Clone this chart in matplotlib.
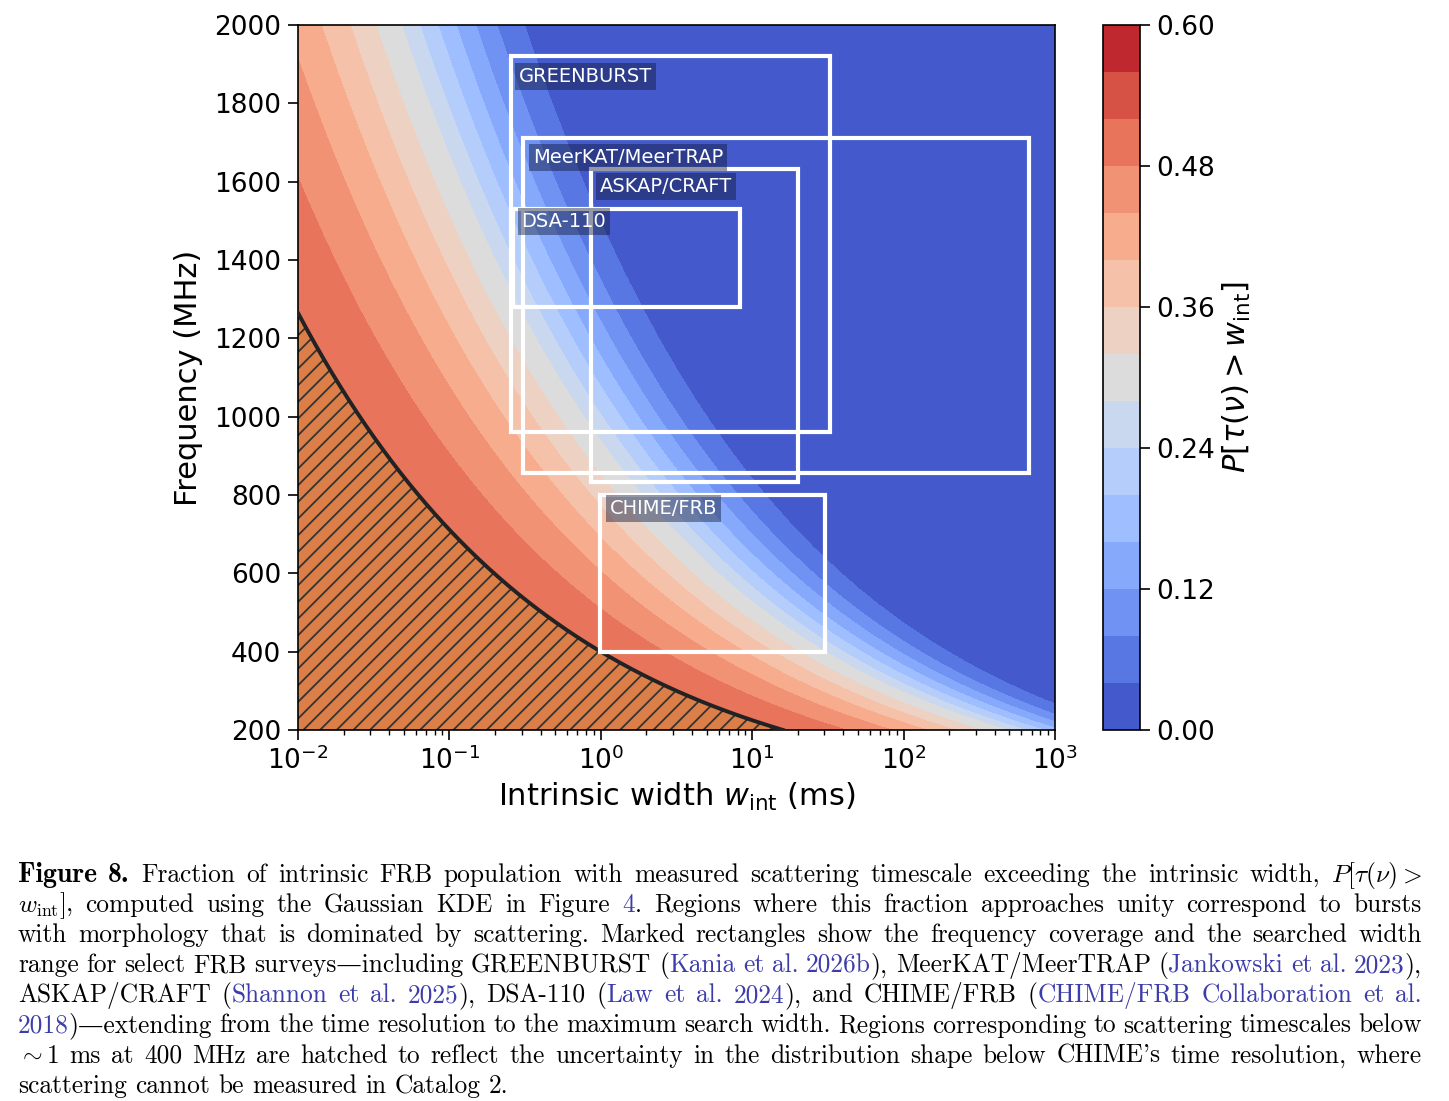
import matplotlib.pyplot as plt
import numpy as np
from matplotlib.patches import Rectangle

# P[tau > w] read off the contour crossings, as a function of
# log10 of the scattering time referenced to 400 MHz (ms)
log_tau400 = [-3.0, -1.0, 0.42, 0.72, 0.95, 1.14, 1.31, 1.48, 1.60, 1.72, 1.84, 1.97, 2.11, 2.29, 3.5]
frac_above = [0.60, 0.58, 0.48, 0.44, 0.40, 0.36, 0.32, 0.28, 0.24, 0.20, 0.16, 0.12, 0.08, 0.04, 0.00]

# hatched region: scattering below ~1 ms at 400 MHz
tau_cut_ms = 1.0
ref_freq = 400.0

# surveys: width range (ms) and frequency coverage (MHz)
survey_names = ["GREENBURST", "MeerKAT/MeerTRAP", "ASKAP/CRAFT", "DSA-110", "CHIME/FRB"]
survey_wmin = [0.256, 0.306, 0.864, 0.262, 0.983]
survey_wmax = [32.768, 673.0, 20.0, 8.3, 30.3]
survey_numin = [960, 856, 832, 1280, 400]
survey_numax = [1920, 1712, 1632, 1530, 800]

cbar_ticks = [0.0, 0.12, 0.24, 0.36, 0.48, 0.60]

# label box offsets from each rectangle's top-left corner (pixels)
label_dx = [4, 6, 5, 5, 6]
label_dy = [7, 6, 4, -1, 0]

plt.rcParams["hatch.linewidth"] = 1.3

W_PX, H_PX = 1449, 1101
fig = plt.figure(figsize=(W_PX / 100, H_PX / 100), dpi=100)
ax = fig.add_axes([298 / W_PX, 1 - 730 / H_PX, 757 / W_PX, 705 / H_PX])
cax = fig.add_axes([1103 / W_PX, 1 - 730 / H_PX, 37 / W_PX, 705 / H_PX])

# field on a grid: depends only on w * (nu/400)^4
w_grid = np.logspace(-2, 3, 800)
nu_grid = np.linspace(200, 2000, 800)
Wg, NUg = np.meshgrid(w_grid, nu_grid)
log_s = np.log10(Wg) + 4 * np.log10(NUg / ref_freq)
Z = np.interp(log_s, log_tau400, frac_above)

levels = np.linspace(0, 0.6, 16)
cf = ax.contourf(Wg, NUg, Z, levels=levels, cmap="coolwarm", zorder=1)
ax.set_xscale("log")

# hatched low-scattering region
w_curve = np.logspace(-2, np.log10(tau_cut_ms * 16), 400)
nu_curve = ref_freq * (tau_cut_ms / w_curve) ** 0.25
ax.fill_between(w_curve, 200, nu_curve, facecolor="#dc7e47", edgecolor="#333333",
                hatch="//", linewidth=0, zorder=2)
ax.plot(w_curve, nu_curve, color="#222222", lw=2.8, zorder=3)

# survey rectangles and labels
fs_lab = 14
pad_px = 0.2 * fs_lab * 100 / 72
for i, name in enumerate(survey_names):
    ax.add_patch(Rectangle((survey_wmin[i], survey_numin[i]),
                           survey_wmax[i] - survey_wmin[i],
                           survey_numax[i] - survey_numin[i],
                           fill=False, edgecolor="white", lw=3, zorder=4))
    ax.annotate(name, xy=(survey_wmin[i], survey_numax[i]), xycoords="data",
                xytext=(label_dx[i] + pad_px, -(label_dy[i] + pad_px)),
                textcoords="offset pixels", ha="left", va="top",
                fontsize=fs_lab, color="white", zorder=5,
                bbox=dict(boxstyle="square,pad=0.2", facecolor="#10183a",
                          edgecolor="none", alpha=0.45))

ax.set_xlim(1e-2, 1e3)
ax.set_ylim(200, 2000)
ax.set_yticks(range(200, 2001, 200))
ax.tick_params(which="major", labelsize=19, length=7, width=1.2, pad=5)
ax.tick_params(which="minor", length=3.5, width=1.0)
for sp in ax.spines.values():
    sp.set_linewidth(1.2)
ax.set_xlabel(r"Intrinsic width $w_{\rm int}$ (ms)", fontsize=22, labelpad=4)
ax.set_ylabel("Frequency (MHz)", fontsize=22, labelpad=8)

cb = fig.colorbar(cf, cax=cax, ticks=cbar_ticks)
cb.ax.set_yticklabels([f"{t:.2f}" for t in cbar_ticks])
cb.ax.tick_params(labelsize=19, length=7, width=1.2, pad=5)
cb.outline.set_linewidth(1.2)
cb.set_label(r"$P[\tau(\nu) > w_{\rm int}]$", fontsize=22, labelpad=4)

# caption: (text, style) with b = bold, n = normal, c = citation, m = math (kept whole)
cite = "#3c3caa"
caption = [
    [("Figure 8.", "b"), ("  Fraction of intrinsic FRB population with measured scattering timescale exceeding the intrinsic width, ", "n"),
     (r"$P[\tau(\nu) >$", "m")],
    [(r"$w_{\rm int}]$", "m"), (", computed using the Gaussian KDE in Figure ", "n"), ("4", "c"),
     (".  Regions where this fraction approaches unity correspond to bursts", "n")],
    [("with morphology that is dominated by scattering.  Marked rectangles show the frequency coverage and the searched width", "n")],
    [("range for select FRB surveys\u2014including GREENBURST (", "n"), ("Kania et al. 2026b", "c"),
     ("), MeerKAT/MeerTRAP (", "n"), ("Jankowski et al. 2023", "c"), ("),", "n")],
    [("ASKAP/CRAFT (", "n"), ("Shannon et al. 2025", "c"), ("), DSA-110 (", "n"), ("Law et al. 2024", "c"),
     ("), and CHIME/FRB (", "n"), ("CHIME/FRB Collaboration et al.", "c")],
    [("2018", "c"), (")\u2014extending from the time resolution to the maximum search width.  Regions corresponding to scattering timescales below", "n")],
    [(r"$\sim 1$", "m"), (" ms at 400 MHz are hatched to reflect the uncertainty in the distribution shape below CHIME's time resolution, where", "n")],
    [("scattering cannot be measured in Catalog 2.", "n")],
]

renderer = fig.canvas.get_renderer()
x_left, x_right = 18, 1422
for k, line in enumerate(caption):
    y_base = 882 + 30.1 * k
    # split into words made of styled pieces
    words, cur = [], []
    for text, style in line:
        parts = [text] if style == "m" else text.split(" ")
        for j, p in enumerate(parts):
            if j > 0 and cur:
                words.append(cur)
                cur = []
            if p:
                cur.append((p, style))
    if cur:
        words.append(cur)

    placed = []
    total = 0.0
    for word in words:
        items = []
        for p, style in word:
            if style == "b":
                fam, fs = ["cmb10", "DejaVu Serif"], 20
            else:
                fam, fs = ["cmr10", "DejaVu Serif"], 18.3
            t = fig.text(0, 1 - y_base / H_PX, p, fontsize=fs, family=fam,
                         math_fontfamily="cm", color=cite if style == "c" else "black",
                         ha="left", va="baseline")
            wd = t.get_window_extent(renderer).width
            items.append((t, wd))
            total += wd
        placed.append(items)

    if k < len(caption) - 1 and len(placed) > 1:
        gap = (x_right - x_left - total) / (len(placed) - 1)
    else:
        gap = 8.3
    x = x_left
    for items in placed:
        for t, wd in items:
            t.set_x(x / W_PX)
            x += wd
        x += gap

fig.savefig("out.png", dpi=100)
